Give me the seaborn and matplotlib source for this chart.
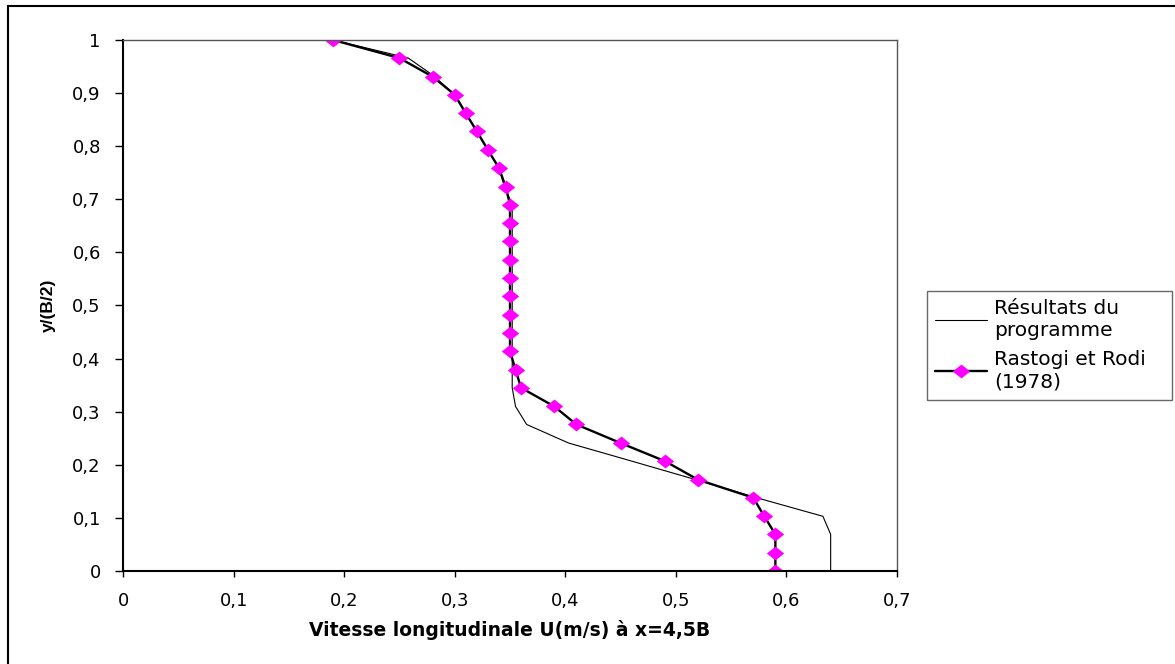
import numpy as np
import pandas as pd
import matplotlib
matplotlib.use("Agg")
import matplotlib.pyplot as plt
import matplotlib.patches as mpatches
from matplotlib.ticker import MultipleLocator, FuncFormatter
import seaborn as sns

# ---- data ----
prog_y = [0.0, 0.069, 0.103, 0.138, 0.172, 0.207, 0.241, 0.276, 0.310, 0.345,
          0.690, 0.724, 0.759, 0.793, 0.828, 0.862, 0.897, 0.934, 0.966, 1.0]
prog_x = [0.640, 0.640, 0.633, 0.573, 0.518, 0.460, 0.403, 0.365, 0.355, 0.352,
          0.352, 0.345, 0.340, 0.330, 0.320, 0.310, 0.300, 0.280, 0.258, 0.190]

rast_y = [0.0, 0.034, 0.069, 0.103, 0.138, 0.172, 0.207, 0.241, 0.276, 0.310,
          0.345, 0.379, 0.414, 0.448, 0.483, 0.517, 0.552, 0.586, 0.621, 0.655,
          0.690, 0.724, 0.759, 0.793, 0.828, 0.862, 0.897, 0.931, 0.966, 1.0]
rast_x = [0.590, 0.590, 0.590, 0.580, 0.570, 0.520, 0.490, 0.450, 0.410, 0.390,
          0.360, 0.355, 0.350, 0.350, 0.350, 0.350, 0.350, 0.350, 0.350, 0.350,
          0.350, 0.346, 0.340, 0.330, 0.320, 0.310, 0.300, 0.280, 0.250, 0.190]

label_prog = "Résultats du\nprogramme"
label_rast = "Rastogi et Rodi\n(1978)"
x_label = "Vitesse longitudinale U(m/s) à x=4,5B"
y_label = "y/(B/2)"

df_prog = pd.DataFrame({"x": prog_x, "y": prog_y})
df_rast = pd.DataFrame({"x": rast_x, "y": rast_y})

sns.set_theme(style="white")
plt.rcParams["font.family"] = ["DejaVu Sans"]
plt.rcParams["text.color"] = "black"
plt.rcParams["axes.labelcolor"] = "black"
plt.rcParams["xtick.color"] = "black"
plt.rcParams["ytick.color"] = "black"

W, H = 1175, 664
fig = plt.figure(figsize=(W / 100, H / 100), dpi=100)
ax = fig.add_axes([123 / W, 1 - 571 / H, (897 - 123) / W, (571 - 40) / H])

# wide, flat diamond (reference is horizontally stretched)
diamond = [(-1, 0), (0, 0.8), (1, 0), (0, -0.8), (-1, 0)]

sns.lineplot(data=df_prog, x="x", y="y", sort=False, estimator=None,
             color="black", linewidth=0.8, ax=ax, label=label_prog)
sns.lineplot(data=df_rast, x="x", y="y", sort=False, estimator=None,
             color="black", linewidth=1.7, marker=diamond, markersize=12.5,
             markerfacecolor="#FF00FF", markeredgecolor="#FF00FF",
             markeredgewidth=0, ax=ax, label=label_rast)

ax.set_xlim(0, 0.7)
ax.set_ylim(0, 1)
ax.xaxis.set_major_locator(MultipleLocator(0.1))
ax.yaxis.set_major_locator(MultipleLocator(0.1))
fmt = FuncFormatter(lambda v, p: ("%g" % round(v, 2)).replace(".", ","))
ax.xaxis.set_major_formatter(fmt)
ax.yaxis.set_major_formatter(fmt)

ax.tick_params(axis="x", direction="out", length=4, width=1, color="black",
               labelsize=13, pad=11, bottom=True, labelcolor="black")
ax.tick_params(axis="y", direction="out", length=6, width=1, color="black",
               labelsize=13, pad=10, left=True, labelcolor="black")

for s in ["left", "bottom"]:
    ax.spines[s].set_color("black")
    ax.spines[s].set_linewidth(1.5)
for s in ["top", "right"]:
    ax.spines[s].set_color("#555555")
    ax.spines[s].set_linewidth(1.0)
ax.grid(False)

ax.set_xlabel(x_label, fontsize=13.5, fontweight="bold", color="black")
ax.set_ylabel(y_label, fontsize=12.5, fontweight="bold", color="black",
              family=["Liberation Sans", "DejaVu Sans"])
ax.xaxis.set_label_coords(0.5, -0.092)
ax.yaxis.set_label_coords(-0.087, 0.5)

handles, labels = ax.get_legend_handles_labels()
if ax.get_legend():
    ax.get_legend().remove()
leg = fig.legend(handles, labels, loc="upper left",
                 bbox_to_anchor=(927 / W, 1 - 292 / H, (1172 - 927) / W, 0.001),
                 bbox_transform=fig.transFigure, mode="expand",
                 borderaxespad=0, fontsize=14.5, frameon=True, fancybox=False,
                 handlelength=2.6, handletextpad=0.35, borderpad=0.4,
                 labelspacing=0.5)
leg.get_frame().set_edgecolor("#444444")
leg.get_frame().set_linewidth(1.0)
for t in leg.get_texts():
    t.set_color("black")

# outer chart border (partly cropped in the reference)
fig.patches.append(mpatches.Rectangle((8 / W, -0.05), 1.5, 1 - 6 / H + 0.05,
                                      transform=fig.transFigure, fill=False,
                                      edgecolor="black", linewidth=1.5))

fig.savefig("out.png", dpi=100)
